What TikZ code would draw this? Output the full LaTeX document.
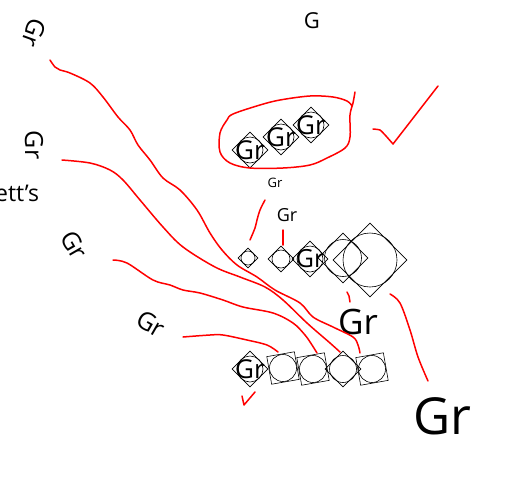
\documentclass[tikz,border=0pt]{standalone}
\usepackage{fontspec}
\setmainfont{Open Sans}
\usetikzlibrary{shapes.geometric}
\begin{document}
\begin{tikzpicture}[x=1pt,y=-1pt,
  redstroke/.style={draw=red, line width=1.5pt, line cap=round, line join=round},
  dia/.style={diamond, draw, aspect=1, inner sep=0pt, line width=0.6pt, minimum size=#1},
  circ/.style={circle, draw, inner sep=0pt, line width=0.6pt, minimum size=#1},
  sq/.style={rectangle, draw, inner sep=0pt, line width=0.6pt, minimum size=#1},
  lbl/.style={inner sep=0pt, font=\fontsize{#1}{#1}\selectfont}]
\useasboundingbox (0,0) rectangle (519,499);

% free labels
\node[lbl=22] (g) at (312,21) {G};
\node[lbl=25, rotate=-110] (l1) at (34,33) {Gr};
\node[lbl=25, rotate=-90] (l2) at (34,145) {Gr};
\node[lbl=23, anchor=west] (l3) at (-5,193) {ett's};
\node[lbl=25, rotate=-60] (l4) at (74,245) {Gr};
\node[lbl=25, rotate=-30] (l5) at (151,324) {Gr};
\node[lbl=13] (l6) at (275,183) {Gr};
\node[lbl=18] (l7) at (287,215) {Gr};
\node[lbl=35] (l8) at (358,322) {Gr};
\node[lbl=51] (l9) at (442,416) {Gr};

% top group
\foreach \n/\x/\y in {t1/250/150, t2/281/137, t3/311/125}{
  \node[dia=36] (\n) at (\x,\y) {};
  \node[circ=26] (\n c) at (\n) {};
  \node[lbl=26] (\n t) at (\n) {Gr};
}

% middle row
\node[dia=20] (m1) at (248,258) {};
\node[circ=14] (m1c) at (m1) {};
\node[dia=26] (m2) at (281,259) {};
\node[circ=18] (m2c) at (m2) {};
\node[dia=36] (m3) at (310,259) {};
\node[circ=26] (m3c) at (m3) {};
\node[lbl=25] (m3t) at (m3) {Gr};
\node[dia=50] (m4) at (343,258) {};
\node[circ=37] (m4c) at (m4) {};
\node[dia=74] (m5) at (370,260) {};
\node[circ=54] (m5c) at (m5) {};

% bottom row
\node[dia=36] (b1) at (250,369) {};
\node[circ=26] (b1c) at (b1) {};
\node[lbl=26] (b1t) at (b1) {Gr};
\node[sq=28, rotate=10] (b2) at (283,368) {};
\node[circ=27] (b2c) at (b2) {};
\node[sq=28, rotate=10] (b3) at (313,369) {};
\node[circ=27] (b3c) at (b3) {};
\node[dia=36] (b4) at (343,369) {};
\node[circ=27] (b4c) at (b4) {};
\node[sq=28, rotate=10] (b5) at (372,369) {};
\node[circ=27] (b5c) at (b5) {};

% red strokes
\draw[redstroke] plot[smooth, tension=0.55] coordinates {(50,60) (55,67) (60,70) (70,73) (90,83) (103,97) (118,117) (130,130) (138,145) (150,160) (163,178) (180,190) (197,210) (210,233) (222,250) (237,265) (257,277) (275,290) (300,303) (313,317) (333,327) (353,337) (358,345) (360,353)};
\draw[redstroke] plot[smooth, tension=0.55] coordinates {(62,160) (90,163) (110,170) (123,180) (140,200) (163,227) (183,247) (215,267) (240,277) (265,287) (283,300) (307,323) (330,343) (340,352)};
\draw[redstroke] plot[smooth, tension=0.55] coordinates {(113,260) (127,263) (153,280) (170,285) (183,290) (200,293) (223,300) (243,307) (273,313) (293,323) (305,335) (312,345) (317,353)};
\draw[redstroke] plot[smooth, tension=0.55] coordinates {(183,337) (210,335) (223,335) (247,340) (267,345) (278,352)};
% loop
\draw[redstroke] plot[smooth, tension=0.55] coordinates {(355,92) (353,103) (350,115) (350,137) (345,148) (327,158) (310,165) (283,168) (250,168) (230,163) (220,152) (220,133) (227,120) (233,114) (260,105) (280,100) (310,96) (333,97) (347,101) (352,106)};
% check mark
\draw[redstroke] plot[smooth, tension=0.3] coordinates {(373,129) (380,130) (386,136) (393,144)} -- (438,86);
% small strokes
\draw[redstroke] plot[smooth, tension=0.55] coordinates {(265,200) (260,210) (257,220) (255,228) (250,240)};
\draw[redstroke] (283,230) -- (283,245);
\draw[redstroke] (347,292) -- (349,296) -- (350,302);
\draw[redstroke] plot[smooth, tension=0.55] coordinates {(390,294) (400,303) (410,330) (418,357) (428,381)};
\draw[redstroke] (242,396) -- (244,405) -- (255,392);
\end{tikzpicture}
\end{document}
